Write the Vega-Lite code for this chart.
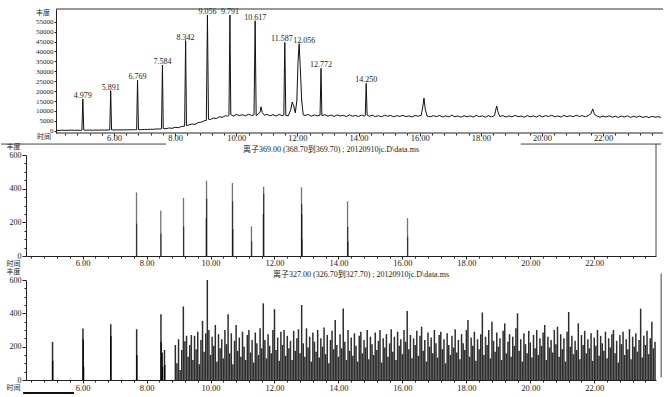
{
  "$schema": "https://vega.github.io/schema/vega-lite/v6.json",
  "background": "white",
  "padding": {"left": 0, "top": 8, "right": 0, "bottom": 0},
  "spacing": 0,
  "config": {
    "view": {"stroke": null},
    "axis": {"grid": false, "domainColor": "#222", "tickColor": "#222", "labelColor": "#222", "titleColor": "#222", "labelFont": "Liberation Serif", "titleFont": "Noto Sans CJK SC", "titleFontWeight": "normal", "labelOverlap": false},
    "title": {"font": "Liberation Serif, Noto Sans CJK SC", "fontWeight": "normal", "color": "#222"}
  },
  "datasets": {
    "one": [{}],
    "tic": [
      {"t":4.10,"v":200},{"t":4.20,"v":150},{"t":4.30,"v":250},{"t":4.40,"v":180},{"t":4.50,"v":220},{"t":4.60,"v":300},{"t":4.70,"v":200},{"t":4.80,"v":260},{"t":4.90,"v":220},{"t":4.95,"v":250},{"t":4.979,"v":16000},{"t":5.01,"v":300},
      {"t":5.10,"v":250},{"t":5.20,"v":300},{"t":5.30,"v":220},{"t":5.40,"v":320},{"t":5.50,"v":280},{"t":5.60,"v":350},{"t":5.70,"v":300},{"t":5.80,"v":380},{"t":5.86,"v":350},{"t":5.891,"v":20200},{"t":5.92,"v":400},
      {"t":6.00,"v":350},{"t":6.10,"v":420},{"t":6.20,"v":380},{"t":6.30,"v":450},{"t":6.40,"v":400},{"t":6.50,"v":480},{"t":6.60,"v":450},{"t":6.70,"v":520},{"t":6.74,"v":500},{"t":6.769,"v":25600},{"t":6.80,"v":560},{"t":6.90,"v":520},
      {"t":7.00,"v":650},{"t":7.10,"v":600},{"t":7.20,"v":750},{"t":7.30,"v":700},{"t":7.40,"v":900},{"t":7.50,"v":850},{"t":7.554,"v":1000},{"t":7.584,"v":33200},{"t":7.61,"v":1100},{"t":7.70,"v":1000},{"t":7.80,"v":1400},{"t":7.90,"v":1200},
      {"t":8.00,"v":1700},{"t":8.10,"v":1500},{"t":8.20,"v":2100},{"t":8.31,"v":2300},{"t":8.342,"v":45500},{"t":8.37,"v":2600},{"t":8.45,"v":2900},{"t":8.55,"v":3400},{"t":8.65,"v":3200},{"t":8.75,"v":4100},{"t":8.85,"v":4300},{"t":8.95,"v":5000},
      {"t":9.02,"v":5200},{"t":9.056,"v":58400},{"t":9.09,"v":5800},{"t":9.15,"v":5600},{"t":9.25,"v":6400},{"t":9.35,"v":6200},{"t":9.45,"v":7000},{"t":9.55,"v":6800},{"t":9.65,"v":7600},{"t":9.72,"v":7300},{"t":9.76,"v":7800},{"t":9.791,"v":58400},{"t":9.82,"v":8200},{"t":9.90,"v":7400},
      {"t":10.00,"v":8200},{"t":10.10,"v":7600},{"t":10.20,"v":8100},{"t":10.30,"v":7500},{"t":10.40,"v":8300},{"t":10.50,"v":7700},{"t":10.58,"v":8000},{"t":10.617,"v":55500},{"t":10.65,"v":7600},{"t":10.72,"v":8400},{"t":10.78,"v":9500},{"t":10.81,"v":12100},{"t":10.85,"v":9200},{"t":10.92,"v":7800},
      {"t":11.00,"v":8300},{"t":11.10,"v":7500},{"t":11.20,"v":8100},{"t":11.30,"v":7400},{"t":11.40,"v":8200},{"t":11.50,"v":7600},{"t":11.555,"v":7900},{"t":11.587,"v":44600},{"t":11.62,"v":7700},{"t":11.70,"v":7500},{"t":11.78,"v":10500},{"t":11.83,"v":14500},{"t":11.88,"v":12500},{"t":11.93,"v":9000},{"t":11.98,"v":15000},
      {"t":12.02,"v":35000},{"t":12.056,"v":43900},{"t":12.09,"v":33000},{"t":12.14,"v":15000},{"t":12.19,"v":8000},{"t":12.25,"v":7700},{"t":12.35,"v":8200},{"t":12.45,"v":7300},{"t":12.55,"v":8000},{"t":12.65,"v":7500},{"t":12.74,"v":7900},{"t":12.772,"v":31500},{"t":12.80,"v":7600},{"t":12.90,"v":8100},
      {"t":13.00,"v":7300},{"t":13.10,"v":7900},{"t":13.20,"v":7200},{"t":13.30,"v":8000},{"t":13.40,"v":7400},{"t":13.50,"v":7800},{"t":13.60,"v":7100},{"t":13.70,"v":8000},{"t":13.80,"v":7300},{"t":13.90,"v":7700},
      {"t":14.00,"v":7200},{"t":14.10,"v":7900},{"t":14.20,"v":7400},{"t":14.22,"v":7700},{"t":14.25,"v":23900},{"t":14.28,"v":7900},{"t":14.35,"v":7300},{"t":14.45,"v":7800},{"t":14.55,"v":7100},{"t":14.65,"v":7600},{"t":14.75,"v":7000},{"t":14.85,"v":7800},{"t":14.95,"v":7300},
      {"t":15.05,"v":7700},{"t":15.15,"v":7000},{"t":15.25,"v":7600},{"t":15.35,"v":7200},{"t":15.45,"v":7800},{"t":15.55,"v":7100},{"t":15.65,"v":7500},{"t":15.75,"v":6900},{"t":15.85,"v":7700},{"t":15.95,"v":7300},
      {"t":16.05,"v":7800},{"t":16.10,"v":12000},{"t":16.14,"v":16500},{"t":16.18,"v":11000},{"t":16.24,"v":7400},{"t":16.35,"v":7000},{"t":16.45,"v":7600},{"t":16.55,"v":7100},{"t":16.65,"v":7700},{"t":16.75,"v":6900},{"t":16.85,"v":7500},{"t":16.95,"v":7000},
      {"t":17.05,"v":7800},{"t":17.15,"v":7100},{"t":17.25,"v":7400},{"t":17.35,"v":6800},{"t":17.45,"v":7600},{"t":17.55,"v":7000},{"t":17.65,"v":7500},{"t":17.75,"v":6900},{"t":17.85,"v":7700},{"t":17.95,"v":7100},
      {"t":18.05,"v":7500},{"t":18.15,"v":6800},{"t":18.25,"v":7600},{"t":18.35,"v":7000},{"t":18.45,"v":7600},{"t":18.48,"v":10000},{"t":18.52,"v":12500},{"t":18.56,"v":9500},{"t":18.62,"v":7200},{"t":18.72,"v":7600},{"t":18.82,"v":6900},{"t":18.92,"v":7500},
      {"t":19.02,"v":7000},{"t":19.12,"v":7700},{"t":19.22,"v":7100},{"t":19.32,"v":7400},{"t":19.42,"v":6800},{"t":19.52,"v":7600},{"t":19.62,"v":7000},{"t":19.72,"v":7500},{"t":19.82,"v":6900},{"t":19.92,"v":7700},
      {"t":20.02,"v":7000},{"t":20.12,"v":7600},{"t":20.22,"v":7200},{"t":20.32,"v":7800},{"t":20.42,"v":7000},{"t":20.52,"v":7500},{"t":20.62,"v":6900},{"t":20.72,"v":7700},{"t":20.82,"v":7100},{"t":20.92,"v":7600},
      {"t":21.02,"v":7000},{"t":21.12,"v":7800},{"t":21.22,"v":7200},{"t":21.32,"v":7600},{"t":21.42,"v":7000},{"t":21.52,"v":7700},{"t":21.60,"v":8500},{"t":21.66,"v":11000},{"t":21.72,"v":8200},{"t":21.80,"v":7400},{"t":21.90,"v":6800},
      {"t":22.00,"v":7400},{"t":22.10,"v":6900},{"t":22.20,"v":7500},{"t":22.30,"v":6800},{"t":22.40,"v":7300},{"t":22.50,"v":6700},{"t":22.60,"v":7400},{"t":22.70,"v":6900},{"t":22.80,"v":7500},{"t":22.90,"v":6700},
      {"t":23.00,"v":7300},{"t":23.10,"v":6800},{"t":23.20,"v":7400},{"t":23.30,"v":6700},{"t":23.40,"v":7200},{"t":23.50,"v":6600},{"t":23.60,"v":7300},{"t":23.70,"v":6800},{"t":23.80,"v":7100},{"t":23.90,"v":6700}
    ],
    "ticpeaks": [
      {"t":4.979,"v":16000},{"t":5.891,"v":20200},{"t":6.769,"v":25600},{"t":7.584,"v":33200},{"t":8.342,"v":45500},{"t":9.056,"v":58400},{"t":9.791,"v":58400},{"t":10.617,"v":55500},{"t":11.587,"v":44600},{"t":12.056,"v":43900},{"t":12.772,"v":31500},{"t":14.25,"v":23900}
    ],
    "p369": [
      {"t":7.685,"v":378},{"t":7.69,"v":192},
      {"t":8.445,"v":270},{"t":8.45,"v":133},
      {"t":9.155,"v":345},{"t":9.16,"v":176},
      {"t":9.865,"v":225},{"t":9.875,"v":447},{"t":9.88,"v":340},
      {"t":10.685,"v":434},{"t":10.69,"v":325},{"t":10.70,"v":160},
      {"t":11.28,"v":176},{"t":11.285,"v":88},
      {"t":11.65,"v":250},{"t":11.66,"v":412},{"t":11.665,"v":372},
      {"t":12.845,"v":408},{"t":12.85,"v":310},{"t":12.855,"v":250},{"t":12.86,"v":100},
      {"t":14.285,"v":325},{"t":14.29,"v":172},{"t":14.30,"v":85},
      {"t":16.16,"v":225},{"t":16.165,"v":115}
    ],
    "p327": [
      {"t":5.06,"v":229},{"t":5.065,"v":115},{"t":6.01,"v":309},{"t":6.02,"v":245},{"t":6.03,"v":80},{"t":6.88,"v":335},{"t":6.885,"v":262},{"t":7.69,"v":305},{"t":7.695,"v":150},
      {"t":8.45,"v":395},{"t":8.455,"v":230},{"t":8.49,"v":165},{"t":8.50,"v":80},{"t":8.56,"v":180},{"t":8.57,"v":90},
      {"t":8.90,"v":210},{"t":8.95,"v":100},{"t":9.00,"v":245},{"t":9.05,"v":60},{"t":9.10,"v":180},{"t":9.15,"v":441},{"t":9.20,"v":232},{"t":9.25,"v":265},{"t":9.30,"v":140},{"t":9.35,"v":210},
      {"t":9.40,"v":270},{"t":9.45,"v":120},{"t":9.50,"v":265},{"t":9.55,"v":185},{"t":9.60,"v":290},{"t":9.65,"v":95},{"t":9.70,"v":240},{"t":9.75,"v":355},{"t":9.80,"v":170},{"t":9.85,"v":280},
      {"t":9.90,"v":600},{"t":9.95,"v":300},{"t":10.00,"v":150},{"t":10.05,"v":260},{"t":10.10,"v":205},{"t":10.15,"v":330},{"t":10.20,"v":110},{"t":10.25,"v":275},{"t":10.30,"v":190},{"t":10.35,"v":245},
      {"t":10.40,"v":130},{"t":10.45,"v":300},{"t":10.50,"v":215},{"t":10.55,"v":395},{"t":10.60,"v":160},{"t":10.65,"v":280},{"t":10.70,"v":95},{"t":10.75,"v":235},{"t":10.80,"v":330},{"t":10.85,"v":175},
      {"t":10.90,"v":255},{"t":10.95,"v":140},{"t":11.00,"v":290},{"t":11.05,"v":200},{"t":11.10,"v":120},{"t":11.15,"v":270},{"t":11.20,"v":300},{"t":11.25,"v":165},{"t":11.30,"v":240},{"t":11.35,"v":105},
      {"t":11.40,"v":285},{"t":11.45,"v":220},{"t":11.50,"v":150},{"t":11.55,"v":310},{"t":11.60,"v":190},{"t":11.65,"v":460},{"t":11.70,"v":240},{"t":11.75,"v":130},{"t":11.80,"v":275},{"t":11.85,"v":205},
      {"t":11.90,"v":160},{"t":11.95,"v":300},{"t":12.00,"v":425},{"t":12.05,"v":180},{"t":12.10,"v":255},{"t":12.15,"v":115},{"t":12.20,"v":290},{"t":12.25,"v":210},{"t":12.30,"v":300},{"t":12.35,"v":145},
      {"t":12.40,"v":265},{"t":12.45,"v":190},{"t":12.50,"v":235},{"t":12.55,"v":120},{"t":12.60,"v":295},{"t":12.65,"v":175},{"t":12.70,"v":250},{"t":12.75,"v":305},{"t":12.80,"v":160},{"t":12.85,"v":450},
      {"t":12.90,"v":220},{"t":12.95,"v":140},{"t":13.00,"v":310},{"t":13.05,"v":195},{"t":13.10,"v":260},{"t":13.15,"v":110},{"t":13.20,"v":285},{"t":13.25,"v":230},{"t":13.30,"v":170},{"t":13.35,"v":300},
      {"t":13.40,"v":135},{"t":13.45,"v":250},{"t":13.50,"v":200},{"t":13.55,"v":315},{"t":13.60,"v":155},{"t":13.65,"v":270},{"t":13.70,"v":100},{"t":13.75,"v":240},{"t":13.80,"v":295},{"t":13.85,"v":185},
      {"t":13.90,"v":360},{"t":13.95,"v":210},{"t":14.00,"v":140},{"t":14.05,"v":275},{"t":14.10,"v":190},{"t":14.15,"v":429},{"t":14.20,"v":230},{"t":14.25,"v":120},{"t":14.30,"v":300},{"t":14.35,"v":175},
      {"t":14.40,"v":255},{"t":14.45,"v":145},{"t":14.50,"v":280},{"t":14.55,"v":205},{"t":14.60,"v":110},{"t":14.65,"v":265},{"t":14.70,"v":290},{"t":14.75,"v":160},{"t":14.80,"v":240},{"t":14.85,"v":195},
      {"t":14.90,"v":300},{"t":14.95,"v":125},{"t":15.00,"v":260},{"t":15.05,"v":215},{"t":15.10,"v":150},{"t":15.15,"v":285},{"t":15.20,"v":180},{"t":15.25,"v":235},{"t":15.30,"v":300},{"t":15.35,"v":105},
      {"t":15.40,"v":250},{"t":15.45,"v":195},{"t":15.50,"v":275},{"t":15.55,"v":140},{"t":15.60,"v":220},{"t":15.65,"v":305},{"t":15.70,"v":170},{"t":15.75,"v":260},{"t":15.80,"v":120},{"t":15.85,"v":290},
      {"t":15.90,"v":205},{"t":15.95,"v":245},{"t":16.00,"v":155},{"t":16.05,"v":300},{"t":16.10,"v":230},{"t":16.15,"v":414},{"t":16.20,"v":185},{"t":16.25,"v":270},{"t":16.30,"v":130},{"t":16.35,"v":250},
      {"t":16.40,"v":210},{"t":16.45,"v":295},{"t":16.50,"v":145},{"t":16.55,"v":265},{"t":16.60,"v":320},{"t":16.65,"v":175},{"t":16.70,"v":240},{"t":16.75,"v":110},{"t":16.80,"v":285},{"t":16.85,"v":200},
      {"t":16.90,"v":255},{"t":16.95,"v":160},{"t":17.00,"v":300},{"t":17.05,"v":220},{"t":17.10,"v":135},{"t":17.15,"v":270},{"t":17.20,"v":290},{"t":17.25,"v":185},{"t":17.30,"v":245},{"t":17.35,"v":100},
      {"t":17.40,"v":280},{"t":17.45,"v":210},{"t":17.50,"v":150},{"t":17.55,"v":265},{"t":17.60,"v":195},{"t":17.65,"v":305},{"t":17.70,"v":165},{"t":17.75,"v":240},{"t":17.80,"v":125},{"t":17.85,"v":275},
      {"t":17.90,"v":220},{"t":17.95,"v":180},{"t":18.00,"v":300},{"t":18.05,"v":360},{"t":18.10,"v":140},{"t":18.15,"v":255},{"t":18.20,"v":205},{"t":18.25,"v":290},{"t":18.30,"v":115},{"t":18.35,"v":245},
      {"t":18.40,"v":185},{"t":18.45,"v":275},{"t":18.50,"v":405},{"t":18.55,"v":150},{"t":18.60,"v":260},{"t":18.65,"v":210},{"t":18.70,"v":300},{"t":18.75,"v":130},{"t":18.80,"v":350},{"t":18.85,"v":235},
      {"t":18.90,"v":170},{"t":18.95,"v":285},{"t":19.00,"v":200},{"t":19.05,"v":250},{"t":19.10,"v":120},{"t":19.15,"v":295},{"t":19.20,"v":340},{"t":19.25,"v":160},{"t":19.30,"v":230},{"t":19.35,"v":275},
      {"t":19.40,"v":140},{"t":19.45,"v":260},{"t":19.50,"v":205},{"t":19.55,"v":310},{"t":19.60,"v":400},{"t":19.65,"v":175},{"t":19.70,"v":245},{"t":19.75,"v":110},{"t":19.80,"v":280},{"t":19.85,"v":215},
      {"t":19.90,"v":160},{"t":19.95,"v":295},{"t":20.00,"v":225},{"t":20.05,"v":135},{"t":20.10,"v":270},{"t":20.15,"v":190},{"t":20.20,"v":300},{"t":20.25,"v":150},{"t":20.30,"v":250},{"t":20.35,"v":205},
      {"t":20.40,"v":285},{"t":20.45,"v":330},{"t":20.50,"v":120},{"t":20.55,"v":260},{"t":20.60,"v":195},{"t":20.65,"v":240},{"t":20.70,"v":165},{"t":20.75,"v":300},{"t":20.80,"v":215},{"t":20.85,"v":320},
      {"t":20.90,"v":140},{"t":20.95,"v":275},{"t":21.00,"v":185},{"t":21.05,"v":250},{"t":21.10,"v":110},{"t":21.15,"v":290},{"t":21.20,"v":408},{"t":21.25,"v":200},{"t":21.30,"v":265},{"t":21.35,"v":155},
      {"t":21.40,"v":235},{"t":21.45,"v":180},{"t":21.50,"v":340},{"t":21.55,"v":125},{"t":21.60,"v":270},{"t":21.65,"v":210},{"t":21.70,"v":295},{"t":21.75,"v":160},{"t":21.80,"v":245},{"t":21.85,"v":190},
      {"t":21.90,"v":280},{"t":21.95,"v":115},{"t":22.00,"v":255},{"t":22.05,"v":205},{"t":22.10,"v":300},{"t":22.15,"v":145},{"t":22.20,"v":265},{"t":22.25,"v":220},{"t":22.30,"v":175},{"t":22.35,"v":290},
      {"t":22.40,"v":130},{"t":22.45,"v":250},{"t":22.50,"v":195},{"t":22.55,"v":275},{"t":22.60,"v":300},{"t":22.65,"v":160},{"t":22.70,"v":235},{"t":22.75,"v":105},{"t":22.80,"v":270},{"t":22.85,"v":215},
      {"t":22.90,"v":290},{"t":22.95,"v":150},{"t":23.00,"v":245},{"t":23.05,"v":185},{"t":23.10,"v":305},{"t":23.15,"v":125},{"t":23.20,"v":260},{"t":23.25,"v":200},{"t":23.30,"v":280},{"t":23.35,"v":170},
      {"t":23.40,"v":240},{"t":23.45,"v":428},{"t":23.50,"v":135},{"t":23.55,"v":265},{"t":23.60,"v":210},{"t":23.65,"v":295},{"t":23.70,"v":155},{"t":23.75,"v":250},{"t":23.80,"v":350},{"t":23.85,"v":190},{"t":23.90,"v":230}
    ]
  },
  "vconcat": [
    {
      "width": 637,
      "height": 124,
      "layer": [
        {
          "data": {"name": "tic"},
          "mark": {"type": "line", "color": "#111", "strokeWidth": 1, "clip": true},
          "encoding": {
            "x": {"field": "t", "type": "quantitative", "scale": {"domain": [3.12, 23.96], "nice": false, "zero": false},
              "axis": {"domain": false, "labelOverlap": false, "tickCount": 500, "values": [4.4,4.8,5.2,5.6,6,6.4,6.8,7.2,7.6,8,8.4,8.8,9.2,9.6,10,10.4,10.8,11.2,11.6,12,12.4,12.8,13.2,13.6,14,14.4,14.8,15.2,15.6,16,16.4,16.8,17.2,17.6,18,18.4,18.8,19.2,19.6,20,20.4,20.8,21.2,21.6,22,22.4,22.8,23.2,23.6],
                "labelExpr": "datum.value % 2 === 0 ? format(datum.value, '.2f') : ''",
                "tickSize": {"condition": {"test": "datum.value % 2 === 0", "value": 3}, "value": 2},
                "labelFontSize": 8.5, "labelPadding": -3, "labelFlush": false,
                "title": "时间", "titleAngle": 0, "titleX": 17.5, "titleY": 3, "titleFontSize": 7, "titleAlign": "center", "titleBaseline": "middle"}},
            "y": {"field": "v", "type": "quantitative", "scale": {"domain": [-1160, 61460], "nice": false, "zero": false},
              "axis": {"offset": -30, "labelOverlap": false, "tickCount": 500, "values": [0,5000,10000,15000,20000,25000,30000,35000,40000,45000,50000,55000], "format": "d",
                "labelFontSize": 7, "tickSize": 2, "labelPadding": 1, "labelFlush": false,
                "title": "丰度", "titleAngle": 0, "titleX": -13.5, "titleY": 3, "titleFontSize": 7, "titleAlign": "center", "titleBaseline": "middle"}}
          }
        },
        {
          "data": {"name": "ticpeaks"},
          "transform": [{"filter": "datum.t != 11.587 && datum.t != 12.056"}],
          "mark": {"type": "text", "dy": -1, "baseline": "alphabetic", "fontSize": 8, "font": "Liberation Serif", "color": "#222"},
          "encoding": {
            "x": {"field": "t", "type": "quantitative"},
            "y": {"field": "v", "type": "quantitative"},
            "text": {"field": "t", "type": "quantitative", "format": ".3f"}
          }
        },
        {
          "data": {"name": "ticpeaks"},
          "transform": [{"filter": "datum.t == 11.587"}],
          "mark": {"type": "text", "dy": -1, "dx": -3, "baseline": "alphabetic", "fontSize": 8, "font": "Liberation Serif", "color": "#222"},
          "encoding": {
            "x": {"field": "t", "type": "quantitative"},
            "y": {"field": "v", "type": "quantitative"},
            "text": {"field": "t", "type": "quantitative", "format": ".3f"}
          }
        },
        {
          "data": {"name": "ticpeaks"},
          "transform": [{"filter": "datum.t == 12.056"}],
          "mark": {"type": "text", "dy": -1, "dx": 5, "baseline": "alphabetic", "fontSize": 8, "font": "Liberation Serif", "color": "#222"},
          "encoding": {
            "x": {"field": "t", "type": "quantitative"},
            "y": {"field": "v", "type": "quantitative"},
            "text": {"field": "t", "type": "quantitative", "format": ".3f"}
          }
        },
        {
          "data": {"name": "one"},
          "mark": {"type": "rule", "color": "#333", "strokeWidth": 1},
          "encoding": {"x": {"datum": 4.1}, "x2": {"datum": 23.96}, "y": {"datum": 61460}}
        },
        {
          "data": {"name": "one"},
          "mark": {"type": "rule", "color": "#222", "strokeWidth": 1},
          "encoding": {"x": {"datum": 4.1}, "x2": {"datum": 23.96}, "y": {"datum": -1160}}
        }
      ]
    },
    {
      "width": 630,
      "height": 101,
      "title": {"text": "离子369.00 (368.70到369.70) ; 20120910jc.D\\data.ms", "fontSize": 8, "offset": -11.5, "dx": -10},
      "layer": [
        {
          "data": {"name": "p369"},
          "mark": {"type": "rule", "color": "#000", "opacity": 0.55, "strokeWidth": 1.3},
          "encoding": {
            "x": {"field": "t", "type": "quantitative", "scale": {"domain": [4.23, 23.93], "nice": false, "zero": false},
              "axis": {"labelOverlap": false, "tickCount": 500, "values": [4.4,4.8,5.2,5.6,6,6.4,6.8,7.2,7.6,8,8.4,8.8,9.2,9.6,10,10.4,10.8,11.2,11.6,12,12.4,12.8,13.2,13.6,14,14.4,14.8,15.2,15.6,16,16.4,16.8,17.2,17.6,18,18.4,18.8,19.2,19.6,20,20.4,20.8,21.2,21.6,22,22.4,22.8,23.2,23.6],
                "labelExpr": "datum.value % 2 === 0 ? format(datum.value, '.2f') : ''",
                "tickSize": {"condition": {"test": "datum.value % 2 === 0", "value": 3}, "value": 2},
                "labelFontSize": 8.5, "labelPadding": -1, "labelFlush": false,
                "title": "时间", "titleAngle": 0, "titleX": -13, "titleY": 7, "titleFontSize": 7, "titleAlign": "center", "titleBaseline": "middle"}},
            "y": {"field": "v", "type": "quantitative", "scale": {"domain": [0, 600], "nice": false},
              "axis": {"labelOverlap": false, "tickCount": 500, "values": [0,50,100,150,200,250,300,350,400,450,500,550,600],
                "labelExpr": "datum.value % 200 === 0 ? datum.value : ''",
                "tickSize": {"condition": {"test": "datum.value % 200 === 0", "value": 4}, "value": 2},
                "labelFontSize": 8, "labelPadding": 1, "labelFlush": false,
                "title": "丰度", "titleAngle": 0, "titleX": -13, "titleY": -9, "titleFontSize": 7, "titleAlign": "center", "titleBaseline": "middle"}},
            "y2": {"datum": 0}
          }
        },
        {
          "data": {"name": "one"},
          "mark": {"type": "rule", "color": "#444", "strokeWidth": 1},
          "encoding": {"x": {"datum": 23.93}, "y": {"datum": 0}, "y2": {"datum": 665}}
        },
        {
          "data": {"name": "one"},
          "mark": {"type": "rule", "color": "#444", "strokeWidth": 1},
          "encoding": {"x": {"datum": 19.7}, "x2": {"datum": 24.09}, "y": {"datum": 665}}
        },
        {
          "data": {"name": "one"},
          "mark": {"type": "rule", "color": "#444", "strokeWidth": 1},
          "encoding": {"x": {"datum": 3.45}, "x2": {"datum": 8.61}, "y": {"datum": 665}}
        }
      ]
    },
    {
      "width": 630,
      "height": 100,
      "title": {"text": "离子327.00 (326.70到327.70) ; 20120910jc.D\\data.ms", "fontSize": 8, "offset": -11.5, "dx": 20},
      "layer": [
        {
          "data": {"name": "p327"},
          "mark": {"type": "rule", "color": "#000", "opacity": 0.82, "strokeWidth": 1.5},
          "encoding": {
            "x": {"field": "t", "type": "quantitative", "scale": {"domain": [4.23, 23.93], "nice": false, "zero": false},
              "axis": {"labelOverlap": false, "tickCount": 500, "values": [4.4,4.8,5.2,5.6,6,6.4,6.8,7.2,7.6,8,8.4,8.8,9.2,9.6,10,10.4,10.8,11.2,11.6,12,12.4,12.8,13.2,13.6,14,14.4,14.8,15.2,15.6,16,16.4,16.8,17.2,17.6,18,18.4,18.8,19.2,19.6,20,20.4,20.8,21.2,21.6,22,22.4,22.8,23.2,23.6],
                "labelExpr": "datum.value % 2 === 0 ? format(datum.value, '.2f') : ''",
                "tickSize": {"condition": {"test": "datum.value % 2 === 0", "value": 3}, "value": 2},
                "labelFontSize": 8.5, "labelPadding": 0, "labelFlush": false,
                "title": "时间", "titleAngle": 0, "titleX": -13, "titleY": 7.5, "titleFontSize": 7, "titleAlign": "center", "titleBaseline": "middle"}},
            "y": {"field": "v", "type": "quantitative", "scale": {"domain": [0, 600], "nice": false},
              "axis": {"labelOverlap": false, "tickCount": 500, "values": [0,50,100,150,200,250,300,350,400,450,500,550,600],
                "labelExpr": "datum.value % 200 === 0 ? datum.value : ''",
                "tickSize": {"condition": {"test": "datum.value % 200 === 0", "value": 4}, "value": 2},
                "labelFontSize": 8, "labelPadding": 1, "labelFlush": false,
                "title": "丰度", "titleAngle": 0, "titleX": -13, "titleY": -9, "titleFontSize": 7, "titleAlign": "center", "titleBaseline": "middle"}},
            "y2": {"datum": 0}
          }
        },
        {
          "data": {"name": "one"},
          "mark": {"type": "rule", "color": "#444", "strokeWidth": 1},
          "encoding": {"x": {"datum": 24.09}, "y": {"datum": 15}, "y2": {"datum": 640}}
        },
        {
          "data": {"name": "one"},
          "mark": {"type": "rule", "color": "#111", "strokeWidth": 2},
          "encoding": {"x": {"datum": 4.14}, "x2": {"datum": 5.73}, "y": {"datum": -78}}
        }
      ]
    }
  ]
}
